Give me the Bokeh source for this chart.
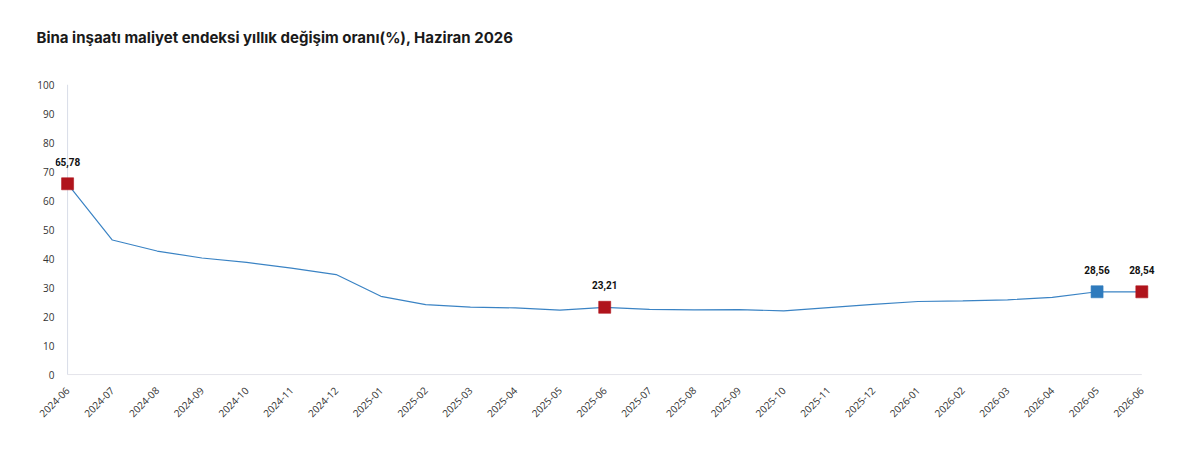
from bokeh.plotting import figure
from bokeh.models import Range1d, FixedTicker, ColumnDataSource, Title, LabelSet
from bokeh.core.properties import value
from bokeh.embed import file_html
from bokeh.resources import INLINE

title_text = "Bina inşaatı maliyet endeksi yıllık değişim oranı(%), Haziran 2026"

months = ["2024-06", "2024-07", "2024-08", "2024-09", "2024-10", "2024-11",
          "2024-12", "2025-01", "2025-02", "2025-03", "2025-04", "2025-05",
          "2025-06", "2025-07", "2025-08", "2025-09", "2025-10", "2025-11",
          "2025-12", "2026-01", "2026-02", "2026-03", "2026-04", "2026-05",
          "2026-06"]
rates = [65.78, 46.4, 42.6, 40.2, 38.7, 36.7,
         34.5, 27.0, 24.1, 23.3, 23.0, 22.2,
         23.21, 22.5, 22.3, 22.4, 22.0, 23.1,
         24.2, 25.2, 25.4, 25.8, 26.6, 28.56,
         28.54]
marked_months = ["2024-06", "2025-06", "2026-05", "2026-06"]
previous_month = "2026-05"

y_ticks = [0, 10, 20, 30, 40, 50, 60, 70, 80, 90, 100]

RED = "#b0141c"
BLUE = "#2f7bbd"
LINE = "#3a83c4"

xs = list(range(len(months)))
line_src = ColumnDataSource(dict(x=xs, y=rates))

mx, my, mc, mt = [], [], [], []
for m in marked_months:
    i = months.index(m)
    mx.append(i)
    my.append(rates[i])
    mc.append(BLUE if m == previous_month else RED)
    mt.append(f"{rates[i]:.2f}".replace(".", ","))
mark_src = ColumnDataSource(dict(x=mx, y=my, c=mc, t=mt))

p = figure(width=1180, height=450, output_backend="svg", toolbar_location=None,
           title=None,
           x_range=Range1d(-0.27, len(months) - 1 + 0.35), y_range=Range1d(-0.3, 100),
           min_border_left=55, min_border_right=23, min_border_top=84, min_border_bottom=75)
p.outline_line_color = None
p.background_fill_color = "white"
p.border_fill_color = "white"
p.xgrid.visible = False
p.ygrid.visible = False

# spacer between plot area and title, then the title itself
p.add_layout(Title(text=" ", text_font_size="10px", standoff=25), "above")
p.add_layout(Title(text=title_text, text_font="Inter", text_font_size="15px",
                   text_font_style="bold", text_color="#1a1a1a", align="left",
                   vertical_align="bottom", offset=-19, standoff=0), "above")

# axis baselines spanning the data extent
p.segment(x0=[xs[0]], y0=[y_ticks[0]], x1=[xs[0]], y1=[y_ticks[-1]],
          line_color="#d8dde8", line_width=1, level="underlay")
p.segment(x0=[xs[0]], y0=[y_ticks[0]], x1=[xs[-1]], y1=[y_ticks[0]],
          line_color="#e2e2e8", line_width=1, level="underlay")

p.line("x", "y", source=line_src, line_color=LINE, line_width=1.2)
p.scatter("x", "y", source=mark_src, marker="square", size=12,
          fill_color="c", line_color="c", line_alpha=0.6)
p.add_layout(LabelSet(x="x", y="y", text="t", source=mark_src, y_offset=22,
                      text_font=value("Roboto"), text_font_style="bold",
                      text_font_size="10px", text_color="#111111",
                      text_align="center", text_baseline="middle"))

xa = p.xaxis[0]
xa.ticker = FixedTicker(ticks=xs)
xa.major_label_overrides = {i: m for i, m in enumerate(months)}
xa.major_label_orientation = 0.785398
xa.major_tick_line_color = None
xa.minor_tick_line_color = None
xa.major_tick_out = 0
xa.axis_line_color = None
xa.major_label_standoff = 13
xa.major_label_text_font = "Open Sans"
xa.major_label_text_font_size = "10px"
xa.major_label_text_color = "#333333"

ya = p.yaxis[0]
ya.ticker = FixedTicker(ticks=y_ticks)
ya.major_tick_line_color = None
ya.minor_tick_line_color = None
ya.major_tick_out = 0
ya.axis_line_color = None
ya.major_label_standoff = 1
ya.major_label_text_font = "Open Sans"
ya.major_label_text_font_size = "10px"
ya.major_label_text_color = "#333333"

open("out.html", "w").write(file_html(p, INLINE))
